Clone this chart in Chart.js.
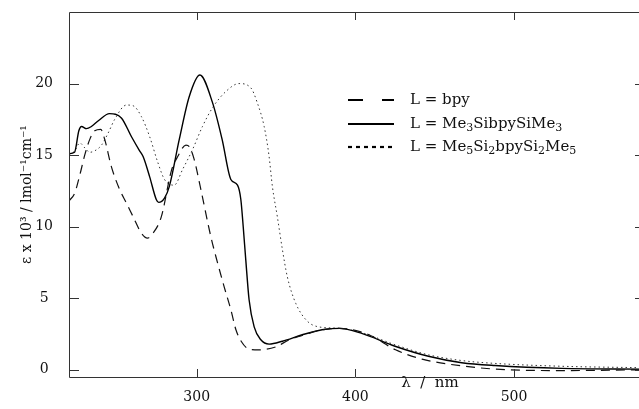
<!DOCTYPE html>
<html>
<head>
<meta charset="utf-8">
<script src="https://cdn.jsdelivr.net/npm/chart.js@4"></script>
<style>
  html, body { margin: 0; padding: 0; background: #fff; overflow: hidden; }
  #wrap { width: 642px; height: 409px; }
</style>
</head>
<body>
<div id="wrap"><canvas id="spectrum" width="642" height="409"></canvas></div>
<script>
// L = bpy (dashed)
const bpyNm = [219.5, 223.1, 226.3, 229.4, 232.6, 235.7, 239.5, 242, 246.2, 251.4, 255.7, 259.9, 265.1, 268.9, 272.5,
    277.7, 284, 288, 293.2, 295.3, 298.4, 302.6, 308.9, 312.1, 317.3, 321.5, 324.7, 328, 333, 339.3, 349.8, 358.2,
    366.5, 379, 390, 408.5, 425.3, 442, 458.8, 488, 530, 580];
const bpyEps = [11.8, 12.35, 13.6, 15.0, 16.1, 16.7, 16.8, 16.1, 14.2, 12.6, 11.65, 10.7, 9.55, 9.2, 9.55,
    10.7, 13.9, 14.9, 15.7, 15.6, 14.7, 12.6, 9.3, 7.9, 5.8, 4.2, 2.8, 2.0, 1.45, 1.4, 1.6, 2.1,
    2.4, 2.8, 2.9, 2.45, 1.4, 0.75, 0.4, 0.05, -0.05, 0.0];

// L = Me3SibpySiMe3 (solid)
const silNm = [219.5, 223, 225.7, 227.4, 230.5, 233.6, 238, 245, 252.5, 258.8, 264, 266.2, 270.3, 274.5, 276,
    279.7, 282.7, 289, 295.3, 302, 310, 316, 321.5, 325.7, 327.8, 329.3, 330.9, 333, 336.2, 340.4, 345.6, 354,
    366.5, 379, 390, 404, 425, 446, 467, 488, 530, 580];
const silEps = [15.1, 15.2, 16.7, 17.0, 16.85, 17.0, 17.4, 17.9, 17.6, 16.3, 15.3, 14.9, 13.5, 11.9, 11.7,
    12.0, 12.8, 16.1, 19.1, 20.6, 18.65, 16.1, 13.3, 12.9, 11.9, 10.0, 7.7, 4.9, 3.0, 2.1, 1.8, 2.0,
    2.45, 2.8, 2.9, 2.55, 1.65, 0.95, 0.5, 0.3, 0.1, 0.05];

// L = Me5Si2bpySi2Me5 (dotted)
const disilNm = [219.5, 223.1, 226.3, 229.5, 232.6, 235.7, 240, 244.2, 248.3, 255.7, 259.9, 265.1, 270.3, 275.6,
    279.7, 285.8, 291.1, 297.4, 303.6, 309.9, 318.4, 326.7, 334.1, 338.2, 342.5, 345.5, 347.7, 350.8, 354,
    357.1, 362.4, 369.7, 377, 390, 404, 425, 446, 467, 488, 530, 580];
const disilEps = [15.0, 15.3, 15.85, 15.5, 15.2, 15.3, 15.7, 16.55, 17.5, 18.5, 18.45, 17.7, 16.3, 14.45,
    13.3, 12.9, 14.0, 15.4, 17.0, 18.3, 19.45, 20.0, 19.7, 18.65, 17.0, 15.0, 12.8, 10.7, 8.4,
    6.5, 4.65, 3.4, 3.0, 2.9, 2.6, 1.75, 1.05, 0.65, 0.45, 0.25, 0.15];

const seriesLabels = ['L = bpy', 'L = Me₃SibpySiMe₃', 'L = Me₅Si₂bpySi₂Me₅'];
const xTickLabels = ['300', '400', '500'];
const yTickLabels = ['0', '5', '10', '15', '20'];

const SERIF = '"DejaVu Serif", serif';
const SUBS = '₀₁₂₃₄₅₆₇₈₉';

function toPoints(nm, eps) {
    return nm.map((x, i) => ({ x: x, y: eps[i] }));
}

// writes a label, drawing unicode subscript digits as small lowered digits
function drawRich(ctx, text, x, y) {
    let cx = x;
    for (const ch of text) {
        const k = SUBS.indexOf(ch);
        if (k >= 0) {
            ctx.font = '11px ' + SERIF;
            ctx.fillText(String(k), cx, y + 4);
            cx += ctx.measureText(String(k)).width;
        } else {
            ctx.font = '15px ' + SERIF;
            ctx.fillText(ch, cx, y);
            cx += ctx.measureText(ch).width;
        }
    }
}

// box, inward ticks, x title and an in-plot legend
const frameAndLegend = {
    id: 'frameAndLegend',
    afterDraw(chart) {
        const { ctx, chartArea: a, scales: { x, y } } = chart;
        ctx.save();
        ctx.strokeStyle = '#333';
        ctx.lineWidth = 1;
        ctx.beginPath();
        ctx.rect(a.left + 0.5, a.top + 0.5, a.right - a.left, a.bottom - a.top);
        x.ticks.forEach((t) => {
            const px = Math.round(x.getPixelForValue(t.value)) + 0.5;
            ctx.moveTo(px, a.bottom);
            ctx.lineTo(px, a.bottom - 8);
            ctx.moveTo(px, a.top);
            ctx.lineTo(px, a.top + 8);
        });
        y.ticks.forEach((t) => {
            if (!yTickLabels.includes(String(t.value))) {
                return;
            }
            const py = Math.round(y.getPixelForValue(t.value)) + 0.5;
            ctx.moveTo(a.left, py);
            ctx.lineTo(a.left + 10, py);
            ctx.moveTo(a.right, py);
            ctx.lineTo(a.right - 6, py);
        });
        ctx.stroke();

        ctx.fillStyle = '#111';
        ctx.font = '15px ' + SERIF;
        ctx.textAlign = 'center';
        ctx.textBaseline = 'middle';
        ctx.fillText('λ  /  nm', x.getPixelForValue(447), a.bottom + 6);

        // legend
        ctx.textAlign = 'left';
        const rowY = [100, 124, 147];
        chart.data.datasets.forEach((ds, i) => {
            const yy = rowY[i];
            ctx.save();
            ctx.strokeStyle = '#000';
            ctx.lineWidth = 2.2;
            ctx.setLineDash(ds.legendDash);
            ctx.beginPath();
            ctx.moveTo(348, yy);
            ctx.lineTo(394, yy);
            ctx.stroke();
            ctx.restore();
            drawRich(ctx, ds.label, 410, yy);
        });
        ctx.restore();
    }
};

new Chart(document.getElementById('spectrum'), {
    type: 'line',
    data: {
        datasets: [
            {
                label: seriesLabels[0],
                data: toPoints(bpyNm, bpyEps),
                borderColor: '#111',
                borderWidth: 1.2,
                borderDash: [9, 6],
                legendDash: [15, 19],
            },
            {
                label: seriesLabels[1],
                data: toPoints(silNm, silEps),
                borderColor: '#000',
                borderWidth: 1.4,
                borderDash: [],
                legendDash: [],
            },
            {
                label: seriesLabels[2],
                data: toPoints(disilNm, disilEps),
                borderColor: '#333',
                borderWidth: 1,
                borderDash: [1.5, 3],
                legendDash: [4, 4],
            },
        ],
    },
    options: {
        responsive: false,
        animation: false,
        devicePixelRatio: 1,
        layout: { padding: { top: 12, right: 1, left: 0, bottom: 0 } },
        elements: {
            point: { radius: 0 },
            line: { tension: 0.4, cubicInterpolationMode: 'monotone', fill: false },
        },
        plugins: {
            legend: { display: false },
            tooltip: { enabled: false },
        },
        scales: {
            x: {
                type: 'linear',
                min: 219.5,
                max: 580,
                grid: { display: false, drawTicks: false },
                border: { display: false },
                ticks: {
                    stepSize: 50,
                    includeBounds: false,
                    autoSkip: false,
                    maxRotation: 0,
                    padding: 12,
                    color: '#111',
                    font: { family: SERIF, size: 14 },
                    callback: (v) => (xTickLabels.includes(String(v)) ? String(v) : null),
                },
                afterFit: (scale) => {
                    scale.height = 32;
                    scale.paddingLeft = 0;
                    scale.paddingRight = 0;
                },
            },
            y: {
                min: -0.5,
                max: 25,
                grid: { display: false, drawTicks: false },
                border: { display: false },
                ticks: {
                    stepSize: 5,
                    includeBounds: false,
                    crossAlign: 'center',
                    padding: 16,
                    color: '#111',
                    font: { family: SERIF, size: 14 },
                    callback: (v) => (yTickLabels.includes(String(v)) ? String(v) : null),
                },
                title: {
                    display: true,
                    text: 'ε x 10³ / lmol⁻¹cm⁻¹',
                    color: '#111',
                    font: { family: SERIF, size: 14 },
                    padding: { top: 19, bottom: 0 },
                },
                afterFit: (scale) => {
                    scale.width = 69;
                    scale.paddingTop = 0;
                    scale.paddingBottom = 0;
                },
            },
        },
    },
    plugins: [frameAndLegend],
});
</script>
</body>
</html>
